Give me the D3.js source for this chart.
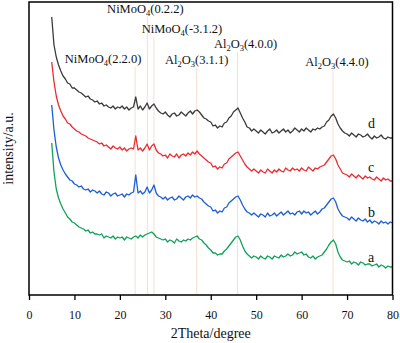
<!DOCTYPE html>
<html>
<head>
<meta charset="utf-8">
<script src="https://cdn.jsdelivr.net/npm/d3@7"></script>
<style>
  html, body { margin: 0; padding: 0; background: #fff; }
  svg { display: block; }
</style>
</head>
<body>
<svg id="chart"></svg>
<script>
// XRD patterns, sampled every 0.5 degree from 5 to 80 (2Theta)
const angleStart = 5;
const angleStep = 0.5;

const intensityA = [
  152,123,106,97,91,86,82,78,76,73,
  72,70,68,67,66,64,65,62,63,61,
  61,60,61,57,59,58,57,59,56,58,
  57,58,55,58,57,56,58,59,57,60,
  58,60,61,62,63,61,58,57,56,55,
  56,53,55,54,52,56,54,53,55,54,
  56,55,57,58,59,56,55,52,50,47,
  45,42,42,40,41,41,44,46,49,52,
  55,58,59,55,49,44,41,39,37,39,
  38,36,39,37,36,39,38,36,39,38,
  37,40,38,39,41,39,40,43,41,42,
  43,40,41,38,37,39,36,38,39,40,
  43,46,50,53,55,51,43,38,35,34,
  33,34,31,33,32,30,33,32,30,31,
  31,29,30,31,28,30,29,27,29,28,
  28
];

const intensityB = [
  190,165,148,137,130,125,121,118,115,114,
  111,110,108,109,106,105,106,103,105,104,
  102,104,101,100,103,102,99,101,102,99,
  100,101,98,101,100,102,103,120,102,104,
  101,103,108,102,105,110,102,99,98,96,
  98,95,97,98,95,96,99,97,95,98,
  99,97,100,98,99,97,96,93,91,89,
  88,84,85,82,84,83,87,88,92,94,
  96,98,99,95,90,86,83,82,80,82,
  80,78,81,80,78,82,79,80,82,79,
  81,83,80,82,84,81,82,80,83,84,
  81,84,82,83,80,82,84,81,83,86,
  87,90,93,96,97,93,86,82,79,78,
  77,75,78,76,74,77,75,74,76,73,
  75,72,74,73,71,74,72,73,71,73,
  72
];

const intensityC = [
  233,213,199,190,184,179,176,172,171,168,
  166,164,163,161,160,159,157,156,155,154,
  153,151,152,149,150,148,146,149,147,146,
  148,145,147,144,146,147,146,159,145,147,
  144,147,151,145,149,151,145,142,141,139,
  140,137,141,139,138,141,137,140,141,139,
  142,140,143,141,144,141,139,137,135,133,
  132,128,129,126,128,127,131,132,136,138,
  140,142,143,139,135,131,128,126,124,126,
  124,122,125,123,122,126,124,122,125,123,
  126,124,123,127,125,124,127,125,126,124,
  127,125,124,128,126,124,127,126,128,129,
  130,133,136,139,140,136,130,126,122,121,
  120,118,121,119,117,120,118,116,119,117,
  118,116,115,118,116,114,117,115,116,114,
  114
];

const intensityD = [
  278,250,238,230,224,219,216,212,211,207,
  207,205,203,202,200,198,199,196,195,193,
  194,191,192,189,190,188,187,189,186,188,
  187,189,186,188,185,187,188,198,186,189,
  185,188,192,186,189,191,187,184,182,181,
  183,180,178,181,182,179,180,183,181,179,
  182,184,181,184,185,183,180,177,176,174,
  173,169,170,167,169,168,172,173,177,179,
  183,185,187,182,177,173,168,167,164,166,
  164,162,165,163,161,164,166,162,163,165,
  162,164,166,163,165,162,164,167,165,163,
  166,164,167,165,163,166,165,167,166,168,
  169,173,175,179,181,177,171,167,164,162,
  161,159,162,160,158,161,160,158,159,161,
  158,156,159,157,158,160,157,156,158,157,
  157
];

const seriesNames = ['a', 'b', 'c', 'd'];
const seriesValues = [intensityA, intensityB, intensityC, intensityD];
const seriesColors = ['#13a05b', '#1b5fd3', '#ec2b30', '#3b3b3b'];

const xTicks = [0, 10, 20, 30, 40, 50, 60, 70, 80];

// Reference peaks
const peakAngles = [23.35, 26.05, 27.5, 36.9, 45.9, 66.9];
const peakPhases = ['NiMoO4', 'NiMoO4', 'NiMoO4', 'Al2O3', 'Al2O3', 'Al2O3'];
const peakPlanes = ['(2.2.0)', '(0.2.2)', '(-3.1.2)', '(3.1.1)', '(4.0.0)', '(4.4.0)'];

// Layout (pixels)
const W = 400, H = 343;
const margin = { top: 2, right: 7.5, bottom: 48, left: 29 };
const labelDx = [-32, -2, 28, 0, 8, 4];
const labelY = [63, 13, 33, 64, 48, 66];
const lineTop = [67, 17, 37, 68, 52, 70];
const seriesLabelY = [262, 217, 172, 128];
const serif = '"Liberation Serif", "Times New Roman", serif';

const svg = d3.select('#chart').attr('width', W).attr('height', H);

const x = d3.scaleLinear().domain([0, 80]).range([margin.left, W - margin.right]);
const y = d3.scaleLinear().domain([0, 293]).range([H - margin.bottom, margin.top]);

// Peak guide lines
svg.append('g')
  .selectAll('line')
  .data(peakAngles)
  .join('line')
  .attr('x1', d => x(d)).attr('x2', d => x(d))
  .attr('y1', (d, i) => lineTop[i])
  .attr('y2', H - margin.bottom)
  .attr('stroke', '#f6dfd0')
  .attr('stroke-width', 1);

// Curves
const line = d3.line()
  .x((d, i) => x(angleStart + i * angleStep))
  .y(d => y(d));

svg.append('g')
  .selectAll('path')
  .data(seriesValues)
  .join('path')
  .attr('fill', 'none')
  .attr('stroke', (d, i) => seriesColors[i])
  .attr('stroke-width', 1.3)
  .attr('stroke-linejoin', 'round')
  .attr('d', line);

// Series letters
svg.append('g')
  .selectAll('text')
  .data(seriesNames)
  .join('text')
  .attr('x', 368)
  .attr('y', (d, i) => seriesLabelY[i])
  .attr('font-family', serif)
  .attr('font-size', 14)
  .attr('fill', '#111')
  .text(d => d);

// Peak labels with subscripts
peakAngles.forEach((ang, i) => {
  const t = svg.append('text')
    .attr('x', x(ang) + labelDx[i])
    .attr('y', labelY[i])
    .attr('text-anchor', 'middle')
    .attr('font-family', serif)
    .attr('font-size', 12.5)
    .attr('fill', '#111');
  let shifted = false;
  const parts = peakPhases[i].split(/(\d+)/).filter(s => s.length);
  parts.push(peakPlanes[i]);
  parts.forEach((p, k) => {
    const isSub = /^\d+$/.test(p) && k < parts.length - 1;
    const ts = t.append('tspan').text(p);
    if (isSub) {
      ts.attr('font-size', 8.5).attr('dy', shifted ? 0 : 3);
      shifted = true;
    } else if (shifted) {
      ts.attr('dy', -3);
      shifted = false;
    }
  });
});

// Frame
svg.append('rect')
  .attr('x', margin.left)
  .attr('y', margin.top)
  .attr('width', W - margin.right - margin.left)
  .attr('height', H - margin.bottom - margin.top)
  .attr('fill', 'none')
  .attr('stroke', '#000')
  .attr('stroke-width', 1.5);

// X axis
const xAxis = svg.append('g')
  .attr('transform', `translate(0,${H - margin.bottom})`)
  .call(d3.axisBottom(x).tickValues(xTicks).tickSizeInner(5).tickSizeOuter(0).tickPadding(10));
xAxis.select('.domain').remove();
xAxis.selectAll('line').attr('stroke', '#000').attr('stroke-width', 1.3);
xAxis.selectAll('text')
  .attr('font-family', serif)
  .attr('font-size', 12)
  .attr('fill', '#111');

// Axis titles
svg.append('text')
  .attr('x', (margin.left + W - margin.right) / 2)
  .attr('y', 338)
  .attr('text-anchor', 'middle')
  .attr('font-family', serif)
  .attr('font-size', 14)
  .attr('fill', '#111')
  .text('2Theta/degree');

svg.append('text')
  .attr('transform', `translate(13,${(margin.top + H - margin.bottom) / 2}) rotate(-90)`)
  .attr('text-anchor', 'middle')
  .attr('font-family', serif)
  .attr('font-size', 14)
  .attr('fill', '#111')
  .text('intensity/a.u.');
</script>
</body>
</html>
